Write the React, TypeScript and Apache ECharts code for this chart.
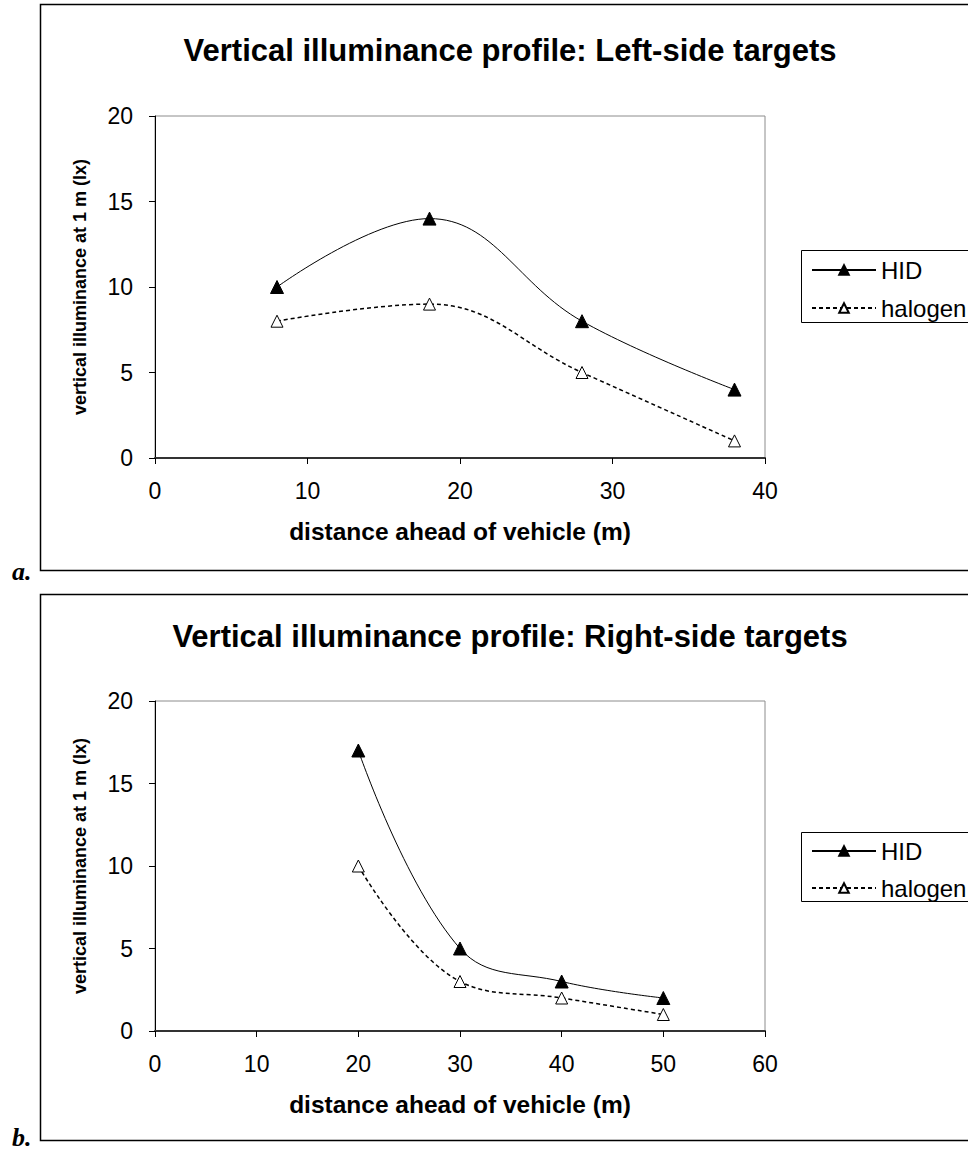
import React, { useEffect, useRef } from "react";
import * as echarts from "echarts";

const distA = [8, 18, 28, 38];
const hidA = [10, 14, 8, 4];
const halA = [8, 9, 5, 1];

const distB = [20, 30, 40, 50];
const hidB = [17, 5, 3, 2];
const halB = [10, 3, 2, 1];

const titleA = "Vertical illuminance profile: Left-side targets";
const titleB = "Vertical illuminance profile: Right-side targets";
const yName = "vertical illuminance at 1 m (lx)";
const xName = "distance ahead of vehicle (m)";
const seriesNames = ["HID", "halogen"];

const FONT = "'Liberation Sans', Arial, sans-serif";

function xAxisOpt(gridIndex: number, max: number) {
  return {
    type: "value",
    gridIndex,
    min: 0,
    max,
    interval: 10,
    name: xName,
    nameLocation: "middle",
    nameGap: 61,
    nameMoveOverlap: false,
    nameTextStyle: { fontFamily: FONT, fontSize: 24.5, fontWeight: "bold", color: "#000" },
    axisLine: { show: true, onZero: false, lineStyle: { color: "#333", width: 2 } },
    axisTick: { show: true, length: 6, lineStyle: { color: "#000" } },
    axisLabel: { fontFamily: FONT, fontSize: 23, color: "#000", margin: 21 },
    splitLine: { show: false },
  };
}

function yAxisOpt(gridIndex: number) {
  return {
    type: "value",
    gridIndex,
    min: 0,
    max: 20,
    interval: 5,
    name: yName,
    nameLocation: "middle",
    nameGap: 66,
    nameMoveOverlap: false,
    nameTextStyle: { fontFamily: FONT, fontSize: 18, fontWeight: "bold", color: "#000" },
    axisLine: { show: true, lineStyle: { color: "#000", width: 1 } },
    axisTick: { show: true, length: 6, lineStyle: { color: "#000" } },
    axisLabel: { fontFamily: FONT, fontSize: 23, color: "#000", margin: 22 },
    splitLine: { show: false },
  };
}

function hidSeries(idx: number, xs: number[], ys: number[]) {
  return {
    name: seriesNames[0],
    type: "line",
    xAxisIndex: idx,
    yAxisIndex: idx,
    data: xs.map((x, i) => [x, ys[i]]),
    smooth: 0.4,
    symbol: "triangle",
    symbolSize: 13,
    lineStyle: { color: "#000", width: 1 },
    itemStyle: { color: "#000", borderColor: "#000", borderWidth: 1 },
  };
}

function halSeries(idx: number, xs: number[], ys: number[]) {
  return {
    name: seriesNames[1],
    type: "line",
    xAxisIndex: idx,
    yAxisIndex: idx,
    data: xs.map((x, i) => [x, ys[i]]),
    smooth: 0.4,
    symbol: "triangle",
    symbolSize: 12,
    lineStyle: { color: "#000", width: 1.5, type: [4, 3] },
    itemStyle: { color: "#fff", borderColor: "#000", borderWidth: 1 },
  };
}

function legendOpt(top: number, name: string) {
  return {
    orient: "vertical",
    left: 811,
    top,
    padding: 0,
    itemWidth: 64,
    itemHeight: 12,
    borderWidth: 0,
    selectedMode: false,
    textStyle: { fontFamily: FONT, fontSize: 24, color: "#000" },
    data: [name],
  };
}

export default function App() {
  const ref = useRef<HTMLDivElement>(null);
  useEffect(() => {
    if (!ref.current) return;
    const chart = echarts.init(ref.current, null, { renderer: "svg" });
    chart.setOption({
      animation: false,
      backgroundColor: "#fff",
      title: [
        {
          text: titleA,
          left: 505,
          top: 30,
          textAlign: "center",
          textStyle: { fontFamily: FONT, fontSize: 31, fontWeight: "bold", color: "#000" },
        },
        {
          text: titleB,
          left: 505,
          top: 616,
          textAlign: "center",
          textStyle: { fontFamily: FONT, fontSize: 31, fontWeight: "bold", color: "#000" },
        },
      ],
      grid: [
        { left: 155, top: 116, width: 610, height: 342, show: true, borderColor: "#8c8c8c", borderWidth: 1, backgroundColor: "transparent" },
        { left: 155, top: 701, width: 610, height: 330, show: true, borderColor: "#8c8c8c", borderWidth: 1, backgroundColor: "transparent" },
      ],
      xAxis: [xAxisOpt(0, 40), xAxisOpt(1, 60)],
      yAxis: [yAxisOpt(0), yAxisOpt(1)],
      legend: [
        legendOpt(258, seriesNames[0]),
        legendOpt(296, seriesNames[1]),
        legendOpt(839, seriesNames[0]),
        legendOpt(876, seriesNames[1]),
      ],
      series: [
        hidSeries(0, distA, hidA),
        halSeries(0, distA, halA),
        hidSeries(1, distB, hidB),
        halSeries(1, distB, halB),
      ],
      graphic: [
        { type: "rect", shape: { x: 40.5, y: 4.5, width: 1000, height: 566 }, style: { fill: "none", stroke: "#000", lineWidth: 1.5 }, z: 0 },
        { type: "rect", shape: { x: 40.5, y: 594.5, width: 1000, height: 546 }, style: { fill: "none", stroke: "#000", lineWidth: 1.5 }, z: 0 },
        { type: "rect", shape: { x: 801.5, y: 250.5, width: 300, height: 72 }, style: { fill: "none", stroke: "#000", lineWidth: 1 }, z: 0 },
        { type: "rect", shape: { x: 801.5, y: 832.5, width: 300, height: 69 }, style: { fill: "none", stroke: "#000", lineWidth: 1 }, z: 0 },
        { type: "text", x: 12, y: 584, style: { text: "a.", font: "italic bold 26px 'Liberation Serif', serif", fill: "#000", verticalAlign: "bottom" } },
        { type: "text", x: 12, y: 1150, style: { text: "b.", font: "italic bold 26px 'Liberation Serif', serif", fill: "#000", verticalAlign: "bottom" } },
      ],
    });
    return () => chart.dispose();
  }, []);
  return (
    <div
      ref={ref}
      style={{ position: "absolute", left: 0, top: 0, width: 968, height: 1151 }}
    />
  );
}
